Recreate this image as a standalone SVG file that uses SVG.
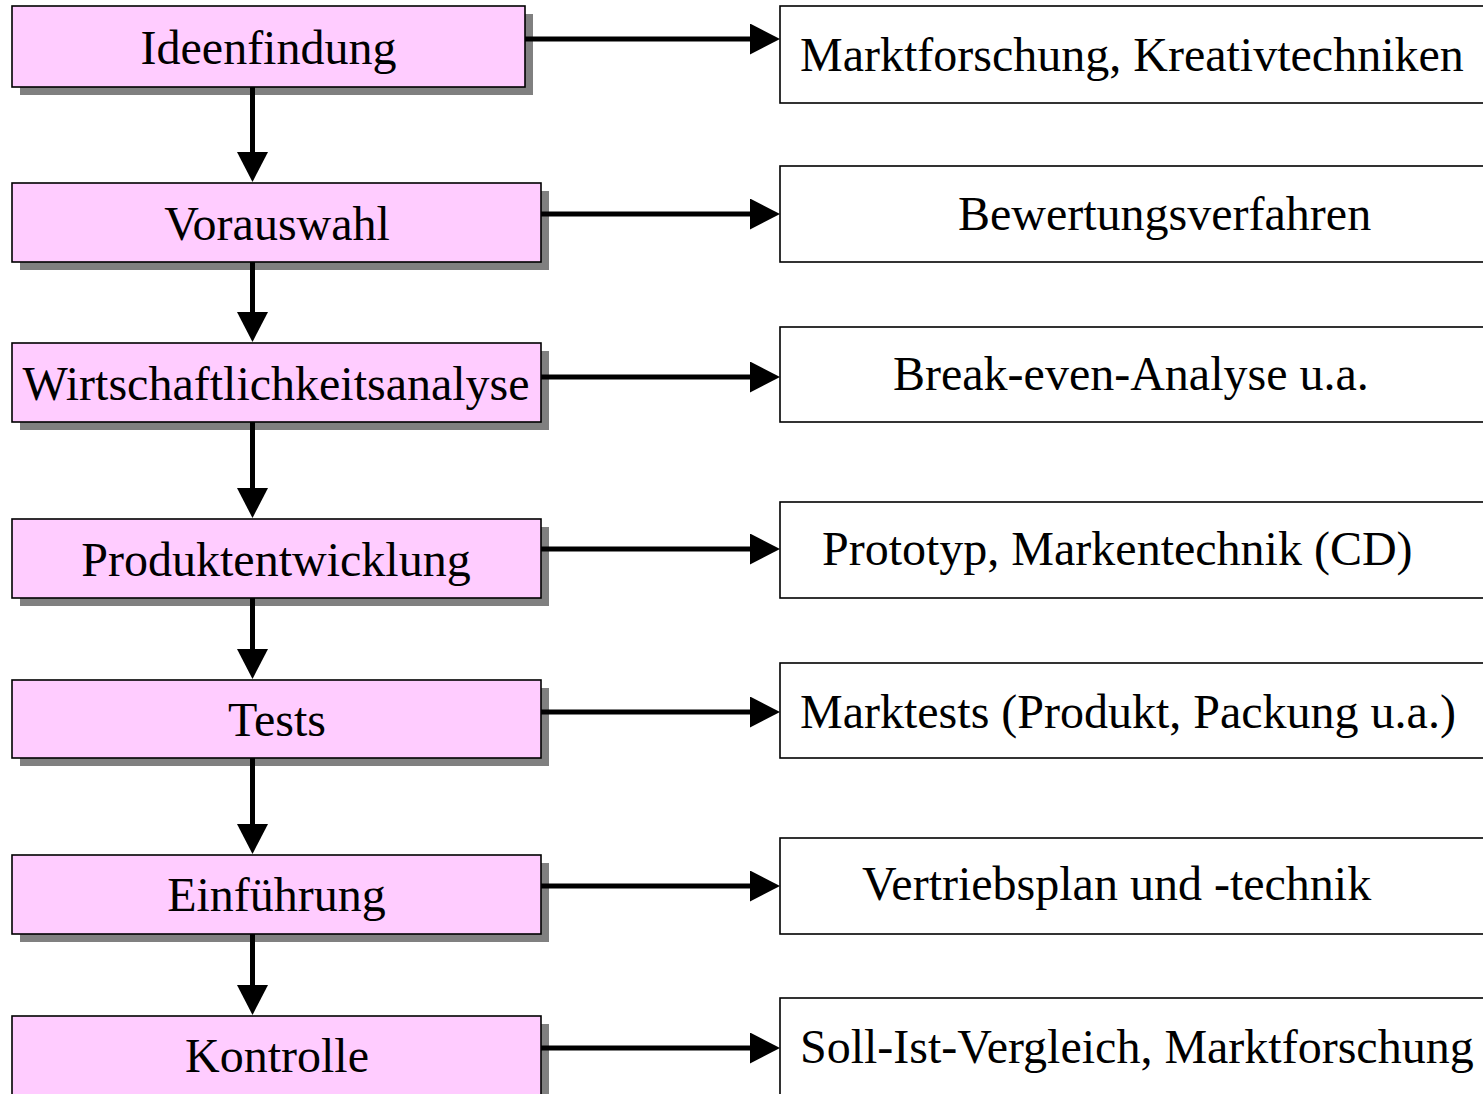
<svg xmlns="http://www.w3.org/2000/svg" width="1483" height="1094" viewBox="0 0 1483 1094">
  <style>
    .shadow { fill: #808080; }
    .step { fill: #FFCCFF; stroke: #000; stroke-width: 1.6; }
    .tool { fill: #FFFFFF; stroke: #000; stroke-width: 1.6; }
    text { font-family: "Liberation Serif", "Times New Roman", serif; font-size: 48px; fill: #000; }
    .mid { text-anchor: middle; }
    .conn { stroke: #000; stroke-width: 5; fill: none; marker-end: url(#head); }
  </style>
  <defs>
    <marker id="head" markerUnits="userSpaceOnUse" markerWidth="32" markerHeight="32" refX="2" refY="15.5" orient="auto">
      <path d="M0,0 L30,15.5 L0,31 Z" fill="#000"/>
    </marker>
  </defs>
  <rect width="1483" height="1094" fill="#fff"/>

  <!-- process steps (left column) -->
  <g id="step-ideenfindung">
    <rect class="shadow" x="20" y="14" width="513" height="81"/>
    <rect class="step" x="12" y="6" width="513" height="81"/>
    <text class="mid" x="268.5" y="64">Ideenfindung</text>
  </g>
  <g id="step-vorauswahl">
    <rect class="shadow" x="20" y="191" width="529" height="79"/>
    <rect class="step" x="12" y="183" width="529" height="79"/>
    <text class="mid" x="277" y="240">Vorauswahl</text>
  </g>
  <g id="step-wirtschaftlichkeit">
    <rect class="shadow" x="20" y="351" width="529" height="79"/>
    <rect class="step" x="12" y="343" width="529" height="79"/>
    <text class="mid" x="276" y="400">Wirtschaftlichkeitsanalyse</text>
  </g>
  <g id="step-produktentwicklung">
    <rect class="shadow" x="20" y="527" width="529" height="79"/>
    <rect class="step" x="12" y="519" width="529" height="79"/>
    <text class="mid" x="276" y="576">Produktentwicklung</text>
  </g>
  <g id="step-tests">
    <rect class="shadow" x="20" y="688" width="529" height="78"/>
    <rect class="step" x="12" y="680" width="529" height="78"/>
    <text class="mid" x="277" y="736">Tests</text>
  </g>
  <g id="step-einfuehrung">
    <rect class="shadow" x="20" y="863" width="529" height="79"/>
    <rect class="step" x="12" y="855" width="529" height="79"/>
    <text class="mid" x="276.5" y="911">Einführung</text>
  </g>
  <g id="step-kontrolle">
    <rect class="shadow" x="20" y="1024" width="529" height="80"/>
    <rect class="step" x="12" y="1016" width="529" height="80"/>
    <text class="mid" x="277" y="1072">Kontrolle</text>
  </g>

  <!-- methods (right column) -->
  <g id="tool-1">
    <rect class="tool" x="780" y="6" width="720" height="97"/>
    <text x="800" y="71">Marktforschung, Kreativtechniken</text>
  </g>
  <g id="tool-2">
    <rect class="tool" x="780" y="166" width="720" height="96"/>
    <text x="958" y="230">Bewertungsverfahren</text>
  </g>
  <g id="tool-3">
    <rect class="tool" x="780" y="327" width="720" height="95"/>
    <text x="893" y="390">Break-even-Analyse u.a.</text>
  </g>
  <g id="tool-4">
    <rect class="tool" x="780" y="502" width="720" height="96"/>
    <text x="822" y="565">Prototyp, Markentechnik (CD)</text>
  </g>
  <g id="tool-5">
    <rect class="tool" x="780" y="663" width="720" height="95"/>
    <text x="800" y="728">Marktests (Produkt, Packung u.a.)</text>
  </g>
  <g id="tool-6">
    <rect class="tool" x="780" y="838" width="720" height="96"/>
    <text x="862" y="900">Vertriebsplan und -technik</text>
  </g>
  <g id="tool-7">
    <rect class="tool" x="780" y="998" width="720" height="100"/>
    <text x="800" y="1063">Soll-Ist-Vergleich, Marktforschung</text>
  </g>

  <!-- connectors -->
  <g id="connectors">
    <!-- step to method -->
    <line class="conn" x1="525" y1="39" x2="752" y2="39"/>
    <line class="conn" x1="541" y1="214" x2="752" y2="214"/>
    <line class="conn" x1="541" y1="377" x2="752" y2="377"/>
    <line class="conn" x1="541" y1="549" x2="752" y2="549"/>
    <line class="conn" x1="541" y1="712" x2="752" y2="712"/>
    <line class="conn" x1="541" y1="886" x2="752" y2="886"/>
    <line class="conn" x1="541" y1="1048" x2="752" y2="1048"/>
    <!-- step to step -->
    <line class="conn" x1="252.5" y1="87" x2="252.5" y2="154"/>
    <line class="conn" x1="252.5" y1="262" x2="252.5" y2="314"/>
    <line class="conn" x1="252.5" y1="422" x2="252.5" y2="490"/>
    <line class="conn" x1="252.5" y1="598" x2="252.5" y2="651"/>
    <line class="conn" x1="252.5" y1="758" x2="252.5" y2="826"/>
    <line class="conn" x1="252.5" y1="934" x2="252.5" y2="987"/>
  </g>
</svg>
